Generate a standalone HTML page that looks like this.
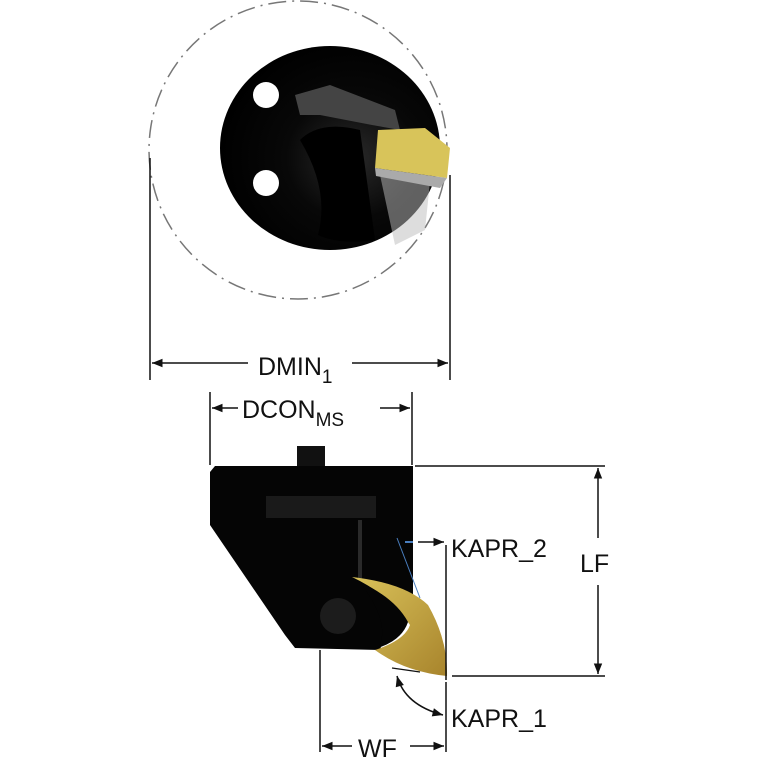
<!DOCTYPE html>
<html><head><meta charset="utf-8"><style>
html,body{margin:0;padding:0;background:#fff;width:767px;height:767px;overflow:hidden}
text{font-family:"Liberation Sans",sans-serif;fill:#111}
</style></head><body>
<svg width="767" height="767" viewBox="0 0 767 767" xmlns="http://www.w3.org/2000/svg">
<defs>
<marker id="a" viewBox="0 0 10 10" refX="10" refY="5" markerWidth="9" markerHeight="7" orient="auto-start-reverse"><path d="M0,1 L10,5 L0,9 z" fill="#111"/></marker>
<radialGradient id="g1" cx="0.6" cy="0.55" r="0.6"><stop offset="0" stop-color="#2a2a2a"/><stop offset="0.5" stop-color="#080808"/><stop offset="1" stop-color="#000"/></radialGradient>
<linearGradient id="gold" x1="0" y1="0" x2="1" y2="1"><stop offset="0" stop-color="#d9c25a"/><stop offset="1" stop-color="#a8842c"/></linearGradient>
</defs>
<circle cx="298" cy="150" r="149" fill="none" stroke="#777" stroke-width="1.5" stroke-dasharray="18 6 2 6"/>
<ellipse cx="330" cy="148" rx="110" ry="102" fill="url(#g1)"/>
<circle cx="266" cy="95" r="13" fill="#fff"/>
<circle cx="266" cy="183" r="13" fill="#fff"/>
<path d="M295,95 L330,85 L395,110 L400,130 L372,125 L320,115 L300,115 z" fill="#444"/>
<path d="M300,140 Q320,120 360,130 L375,240 Q340,245 318,235 Q330,190 300,140 z" fill="#000"/>
<path d="M380,175 L430,182 L425,230 L395,245 z" fill="#bbb" opacity="0.5"/>
<path d="M378,130 L425,128 L450,148 L447,178 L375,168 z" fill="#d8c45a"/>
<path d="M375,168 L447,178 L440,188 L376,176 z" fill="#aaa"/>
<line x1="150" y1="158" x2="150" y2="380" stroke="#111" stroke-width="1.5"/>
<line x1="450" y1="175" x2="450" y2="380" stroke="#111" stroke-width="1.5"/>
<line x1="152" y1="363" x2="248" y2="363" stroke="#111" stroke-width="1.5" marker-start="url(#a)"/>
<line x1="352" y1="363" x2="448" y2="363" stroke="#111" stroke-width="1.5" marker-end="url(#a)"/>
<text x="258" y="375" font-size="25">DMIN<tspan font-size="19" dy="8">1</tspan></text>
<line x1="210" y1="392" x2="210" y2="465" stroke="#111" stroke-width="1.5"/>
<line x1="412" y1="392" x2="412" y2="465" stroke="#111" stroke-width="1.5"/>
<line x1="212" y1="408" x2="238" y2="408" stroke="#111" stroke-width="1.5" marker-start="url(#a)"/>
<line x1="380" y1="408" x2="410" y2="408" stroke="#111" stroke-width="1.5" marker-end="url(#a)"/>
<text x="242" y="418" font-size="25">DCON<tspan font-size="19" dy="8">MS</tspan></text>
<rect x="297" y="446" width="28" height="22" fill="#111"/>
<path d="M215,466 L413,466 L413,598 L395,600 L380,650 L295,648 L285,635 L210,525 L210,472 z" fill="#050505"/>
<rect x="266" y="496" width="110" height="22" fill="#1a1a1a"/>
<line x1="360" y1="520" x2="360" y2="580" stroke="#2a2a2a" stroke-width="4"/>
<circle cx="338" cy="616" r="18" fill="#1c1c1c"/>
<path d="M352,577 Q405,583 428,605 Q448,640 447,676 Q405,672 375,650 Q405,640 410,625 Q390,595 352,577 z" fill="url(#gold)"/>
<path d="M360,582 Q395,598 408,622 Q402,640 378,648 Q392,625 360,582 z" fill="#050505"/>
<line x1="397" y1="538" x2="420" y2="598" stroke="#4a7fc0" stroke-width="1"/>
<line x1="415" y1="466" x2="605" y2="466" stroke="#111" stroke-width="1.5"/>
<line x1="452" y1="676" x2="605" y2="676" stroke="#111" stroke-width="1.5"/>
<line x1="598" y1="468" x2="598" y2="538" stroke="#111" stroke-width="1.5" marker-start="url(#a)"/>
<line x1="598" y1="585" x2="598" y2="674" stroke="#111" stroke-width="1.5" marker-end="url(#a)"/>
<text x="580" y="572" font-size="25">LF</text>
<line x1="446" y1="545" x2="446" y2="680" stroke="#111" stroke-width="1.5"/>
<line x1="405" y1="542" x2="413" y2="542" stroke="#4a7fc0" stroke-width="2"/>
<line x1="418" y1="542" x2="444" y2="542" stroke="#111" stroke-width="1.5" marker-end="url(#a)"/>
<text x="451" y="557" font-size="25">KAPR_2</text>
<line x1="446" y1="682" x2="446" y2="752" stroke="#111" stroke-width="1.5"/>
<line x1="392" y1="668" x2="420" y2="672" stroke="#111" stroke-width="1.2"/>
<path d="M397,676 Q405,705 443,715" fill="none" stroke="#111" stroke-width="1.5" marker-start="url(#a)" marker-end="url(#a)"/>
<text x="451" y="727" font-size="25">KAPR_1</text>
<line x1="320" y1="650" x2="320" y2="752" stroke="#111" stroke-width="1.5"/>
<line x1="322" y1="746" x2="352" y2="746" stroke="#111" stroke-width="1.5" marker-start="url(#a)"/>
<line x1="410" y1="746" x2="444" y2="746" stroke="#111" stroke-width="1.5" marker-end="url(#a)"/>
<text x="358" y="757" font-size="25">WF</text>
</svg>
</body></html>
